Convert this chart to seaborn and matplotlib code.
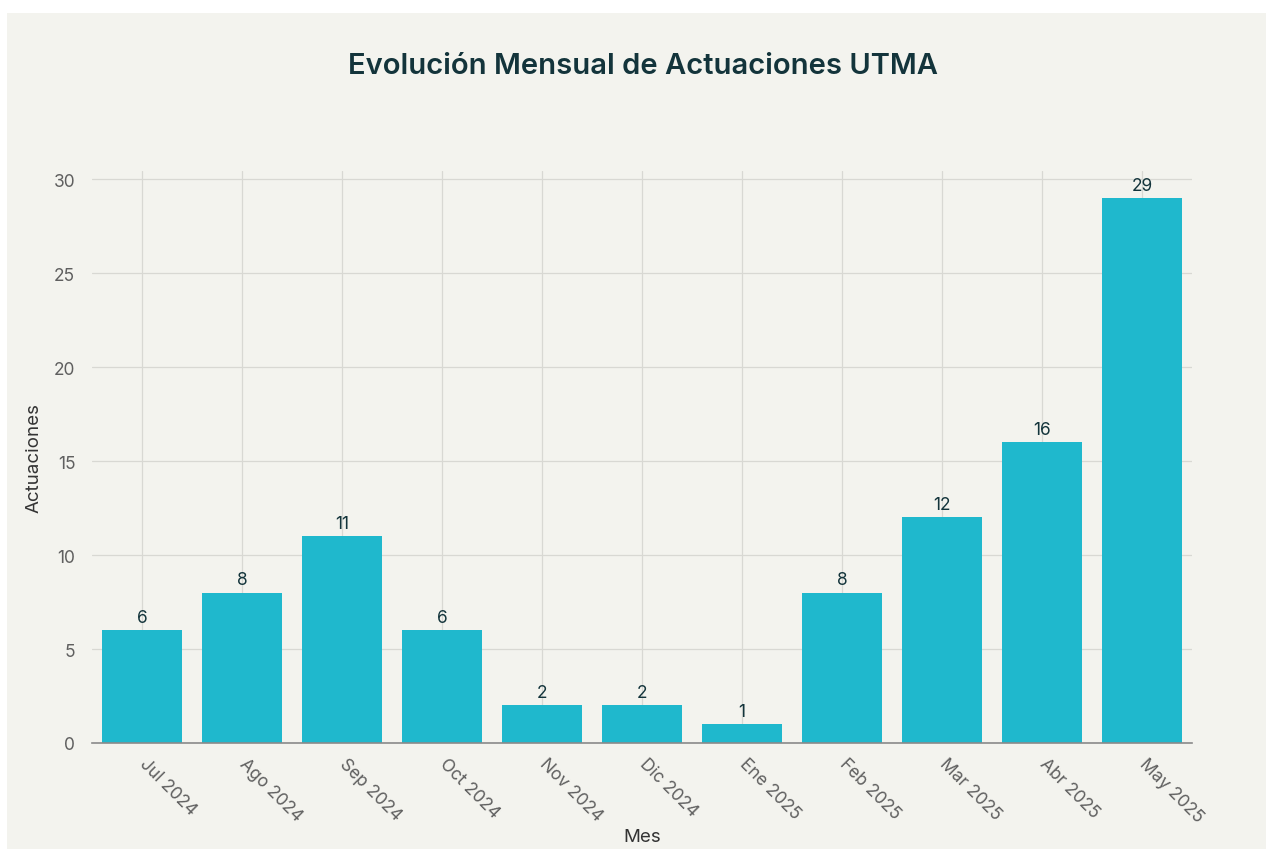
import matplotlib
matplotlib.use("Agg")
import matplotlib.pyplot as plt
from matplotlib.patches import Rectangle
import seaborn as sns
import pandas as pd

months = ["Jul 2024", "Ago 2024", "Sep 2024", "Oct 2024", "Nov 2024", "Dic 2024",
          "Ene 2025", "Feb 2025", "Mar 2025", "Abr 2025", "May 2025"]
actuaciones = [6, 8, 11, 6, 2, 2, 1, 8, 12, 16, 29]
y_ticks = [0, 5, 10, 15, 20, 25, 30]

df = pd.DataFrame({"Mes": months, "Actuaciones": actuaciones})

sns.set_theme(style="white")
plt.rcParams['font.family'] = ['Inter', 'DejaVu Sans']

BG = "#F3F3EE"
BAR = "#1FB8CD"
GRID = "#D8D8D3"
TXT = "#13343B"
TICK = "#5F5F5F"

fig = plt.figure(figsize=(12.66, 8.53), dpi=100)
fig.patch.set_facecolor("white")
fig.patches.append(Rectangle((7/1266, 3/853), 1 - 7/1266, 1 - 17/853,
                             transform=fig.transFigure, facecolor=BG,
                             edgecolor="none", zorder=-10))

ax = fig.add_axes([92/1266, 1 - 744/853, 1100/1266, (744 - 172)/853])
ax.set_facecolor(BG)

sns.barplot(data=df, x="Mes", y="Actuaciones", color=BAR, width=0.8,
            saturation=1, edgecolor="none", ax=ax, zorder=3)

ax.set_xlim(-0.5, len(months) - 0.5)
ax.set_ylim(0, 30.43)
ax.set_yticks(y_ticks)
ax.set_yticklabels([str(t) for t in y_ticks], fontsize=12.5, color=TICK)

ax.grid(True, axis="both", color=GRID, linewidth=0.9, zorder=0)
ax.set_axisbelow(True)
for s in ["top", "right", "left"]:
    ax.spines[s].set_visible(False)
ax.spines["bottom"].set_color("#8A8A8A")
ax.spines["bottom"].set_linewidth(1.2)
ax.spines["bottom"].set_zorder(5)

ax.tick_params(axis="y", length=6, color=GRID, pad=6)
ax.tick_params(axis="x", length=6, color=GRID, pad=7)
for lbl in ax.get_xticklabels():
    lbl.set_rotation(-45)
    lbl.set_rotation_mode("anchor")
    lbl.set_ha("left")
    lbl.set_va("center")
    lbl.set_fontsize(12.5)
    lbl.set_color(TICK)

for cont in ax.containers:
    ax.bar_label(cont, labels=[str(v) for v in actuaciones], padding=3,
                 fontsize=12.5, color=TXT)

ax.set_xlabel("Mes", fontsize=13.5, color="#333333", va="center")
ax.xaxis.set_label_coords(0.5, (744 - 838) / 572)
ax.set_ylabel("Actuaciones", fontsize=13.5, color="#333333", labelpad=8)

fig.text(643/1266, 1 - 67/853, "Evolución Mensual de Actuaciones UTMA",
         ha="center", va="center", fontsize=21, fontweight="semibold", color=TXT)

fig.savefig("out.png", dpi=100, facecolor=fig.get_facecolor())
